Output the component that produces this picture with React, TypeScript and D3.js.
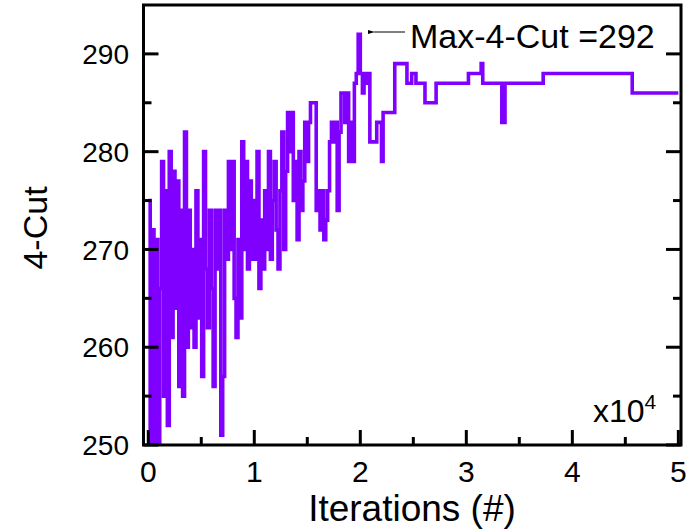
import React from "react";
import * as d3 from "d3";

// ---- data ----
const SAMPLE_STEP = 180; // iterations between samples in the noisy phase
const NOISY_CUTS = [
  275, 250, 272, 250, 271, 250, 266, 279, 255, 276,
  252, 280, 261, 278, 264, 277, 256, 274, 255, 282,
  260, 274, 262, 270, 260, 276, 263, 271, 257, 280,
  268, 262, 274, 266, 256, 274, 268, 274, 251, 257,
  274, 269, 279, 270, 279, 265, 261, 271, 263, 281,
  270, 279, 268, 277, 269, 275, 269, 280, 266, 273,
  268, 276, 270, 280, 269, 275, 279, 272, 268, 276,
  282, 270, 278, 284, 280, 284, 275, 279, 271, 280,
  274, 277, 283, 279, 283, 285, 285, 285, 274, 276,
  272, 276, 271, 273, 276, 281, 283, 281, 283, 274,
  282, 286, 286, 283, 286, 279, 283, 279, 287, 288,
  292,
];
const TAIL_ITERS = [
  20000, 20200, 20350, 20550, 20700, 20900, 21550, 22000, 22150, 23250,
  24400, 24850, 25250, 26100, 27150, 30200, 31400, 31550, 33350, 33650,
  37250, 45650, 50000,
];
const TAIL_CUTS = [
  288, 286, 288, 287, 288, 281, 283, 279, 284, 289,
  287, 288, 287, 285, 287, 288, 289, 287, 283, 287,
  288, 286, 286,
];
const Y_TICKS = [250, 260, 270, 280, 290];
const Y_MINOR = [255, 265, 275, 285];
const X_TICKS = [0, 1, 2, 3, 4, 5];
const X_MINOR = [0.5, 1.5, 2.5, 3.5, 4.5];
const MAX_LABEL = "Max-4-Cut =292";

const W = 686;
const H = 531;
const L = 143.5, R = 681, T = 5, B = 445;
const FONT = "'Liberation Sans', Arial, sans-serif";
const COLOR = "#7f00ff";

export default function App() {
  const x = d3.scaleLinear().domain([-0.045, 5.025]).range([L, R]);
  const y = d3.scaleLinear().domain([250, 295]).range([B, T]);

  const points: [number, number][] = [
    ...NOISY_CUTS.map((v, i) => [(i * SAMPLE_STEP) / 1e4, v] as [number, number]),
    ...TAIL_ITERS.map((it, i) => [it / 1e4, TAIL_CUTS[i]] as [number, number]),
  ];
  const line = d3
    .line<[number, number]>()
    .x((d) => x(d[0]))
    .y((d) => y(d[1]))
    .curve(d3.curveStepAfter);

  const peakX = x(((NOISY_CUTS.length - 1) * SAMPLE_STEP) / 1e4);

  return (
    <svg
      width={W}
      height={H}
      style={{ position: "absolute", left: 0, top: 0, background: "#fff" }}
      fontFamily={FONT}
    >
      <defs>
        <clipPath id="plot">
          <rect x={L} y={T} width={R - L} height={B - T} />
        </clipPath>
        <marker id="arr" viewBox="0 0 10 10" refX="1" refY="5" markerWidth="7" markerHeight="7" orient="auto">
          <path d="M10,2 L0,5 L10,8 Z" fill="#000" />
        </marker>
      </defs>
      <path d={line(points) || ""} fill="none" stroke={COLOR} strokeWidth={3.6} clipPath="url(#plot)" />
      <rect x={L} y={T} width={R - L} height={B - T} fill="none" stroke="#000" strokeWidth={3} />
      {Y_TICKS.map((t) => (
        <g key={"y" + t}>
          <line x1={L} x2={L + 15} y1={y(t)} y2={y(t)} stroke="#000" strokeWidth={3} />
          <line x1={R} x2={R - 15} y1={y(t)} y2={y(t)} stroke="#000" strokeWidth={3} />
          <text x={129} y={y(t)} dy="0.36em" textAnchor="end" fontSize={28}>{t}</text>
        </g>
      ))}
      {Y_MINOR.map((t) => (
        <g key={"ym" + t}>
          <line x1={L} x2={L + 8} y1={y(t)} y2={y(t)} stroke="#000" strokeWidth={3} />
          <line x1={R} x2={R - 8} y1={y(t)} y2={y(t)} stroke="#000" strokeWidth={3} />
        </g>
      ))}
      {X_TICKS.map((t) => (
        <g key={"x" + t}>
          <line x1={x(t)} x2={x(t)} y1={B} y2={B - 15} stroke="#000" strokeWidth={3} />
          <text x={x(t)} y={482} textAnchor="middle" fontSize={30}>{t}</text>
        </g>
      ))}
      {X_MINOR.map((t) => (
        <line key={"xm" + t} x1={x(t)} x2={x(t)} y1={B} y2={B - 8} stroke="#000" strokeWidth={3} />
      ))}
      <text x={412} y={521} textAnchor="middle" fontSize={37}>Iterations (#)</text>
      <text transform="translate(47,228) rotate(-90)" textAnchor="middle" fontSize={34}>4-Cut</text>
      <text x={593} y={422} fontSize={32}>
        x10<tspan fontSize={21} dy={-13}>4</tspan>
      </text>
      <line x1={405} x2={peakX + 16} y1={32} y2={32} stroke="#000" strokeWidth={1} markerEnd="url(#arr)" />
      <text x={410} y={48} fontSize={34}>{MAX_LABEL}</text>
    </svg>
  );
}
